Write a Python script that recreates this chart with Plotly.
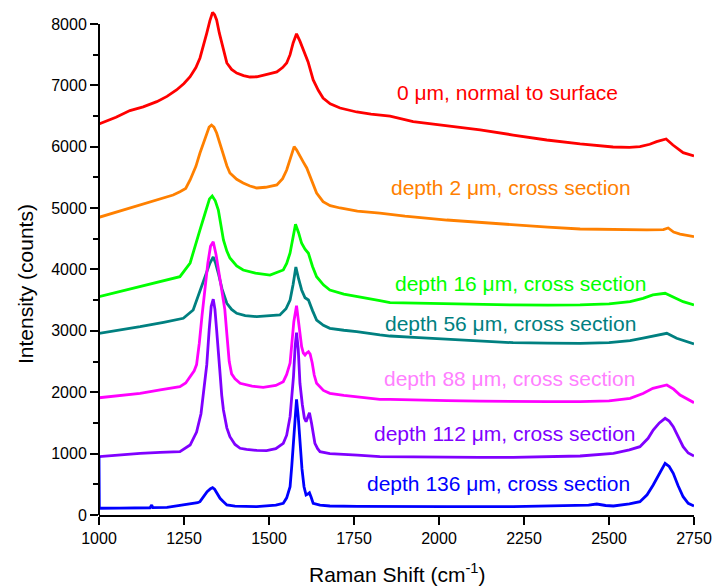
import plotly.graph_objects as go

# ---------------- data ----------------
red_x = [1000, 1050, 1091, 1130, 1170, 1200, 1228, 1250, 1268, 1285, 1297, 1308, 1317, 1326, 1334, 1340, 1346, 1354,
         1361, 1368, 1376, 1390, 1405, 1425, 1444, 1464, 1483, 1503, 1523, 1540, 1552, 1562, 1571, 1581, 1591, 1601,
         1615, 1630, 1645, 1659, 1680, 1709, 1758, 1800, 1856, 1924, 2023, 2121, 2218, 2317, 2415, 2512, 2560, 2591,
         2620, 2640, 2668, 2688, 2718, 2750]
red_y = [6370, 6480, 6590, 6650, 6735, 6820, 6925, 7030, 7142, 7290, 7446, 7650, 7853, 8050, 8190, 8150, 8065, 7850,
         7690, 7510, 7365, 7260, 7200, 7160, 7136, 7140, 7170, 7190, 7218, 7290, 7365, 7500, 7690, 7840, 7720, 7576,
         7381, 7088, 6920, 6794, 6700, 6631, 6566, 6530, 6500, 6408, 6338, 6273, 6191, 6110, 6045, 5996, 5990, 6001,
         6040, 6082, 6126, 6028, 5903, 5849]

orange_x = [1000, 1060, 1121, 1170, 1218, 1238, 1255, 1268, 1285, 1297, 1308, 1317, 1324, 1331, 1338, 1346, 1356,
            1366, 1376, 1385, 1405, 1424, 1444, 1464, 1490, 1523, 1540, 1552, 1564, 1574, 1581, 1591, 1601, 1611,
            1625, 1640, 1659, 1680, 1709, 1760, 1826, 1900, 2023, 2120, 2218, 2320, 2415, 2510, 2611, 2660, 2674,
            2690, 2709, 2750]
orange_y = [4850, 4950, 5051, 5132, 5214, 5267, 5320, 5458, 5680, 5898, 6080, 6224, 6320, 6354, 6320, 6224, 6040,
            5838, 5690, 5572, 5470, 5409, 5360, 5328, 5340, 5377, 5480, 5621, 5850, 6001, 5950, 5838, 5750, 5654,
            5440, 5246, 5105, 5040, 5002, 4950, 4920, 4870, 4806, 4765, 4725, 4690, 4660, 4650, 4644, 4650, 4676,
            4610, 4578, 4535]

green_x = [1000, 1060, 1121, 1180, 1238, 1268, 1285, 1297, 1310, 1317, 1325, 1333, 1342, 1351, 1358, 1366, 1376,
           1385, 1405, 1424, 1460, 1503, 1542, 1552, 1562, 1570, 1578, 1587, 1596, 1606, 1616, 1628, 1640, 1660,
           1679, 1720, 1758, 1826, 1856, 1940, 2023, 2120, 2218, 2320, 2415, 2500, 2562, 2600, 2629, 2665, 2688,
           2718, 2750]
green_y = [3557, 3640, 3720, 3800, 3883, 4106, 4400, 4644, 4880, 5023, 5150, 5198, 5120, 4969, 4720, 4481, 4300,
           4187, 4060, 3992, 3940, 3910, 3992, 4100, 4269, 4500, 4736, 4600, 4427, 4330, 4264, 4050, 3883, 3750,
           3666, 3600, 3557, 3492, 3459, 3450, 3438, 3430, 3422, 3420, 3422, 3440, 3476, 3530, 3585, 3612, 3557,
           3476, 3422]

teal_x = [1000, 1060, 1121, 1190, 1248, 1277, 1292, 1307, 1318, 1326, 1336, 1343, 1351, 1362, 1376, 1390, 1405,
          1430, 1464, 1500, 1532, 1550, 1562, 1571, 1579, 1587, 1596, 1606, 1616, 1628, 1640, 1660, 1679, 1720,
          1758, 1826, 1856, 1940, 2023, 2120, 2218, 2320, 2415, 2500, 2562, 2600, 2629, 2670, 2699, 2750]
teal_y = [2960, 3010, 3068, 3140, 3205, 3340, 3570, 3829, 4000, 4101, 4205, 4100, 3938, 3680, 3449, 3350, 3286,
          3250, 3231, 3240, 3259, 3360, 3503, 3760, 4040, 3850, 3666, 3540, 3503, 3330, 3177, 3090, 3042, 3010,
          2987, 2933, 2916, 2890, 2863, 2835, 2807, 2800, 2797, 2810, 2840, 2880, 2916, 2960, 2879, 2786]

magenta_x = [1000, 1060, 1121, 1180, 1238, 1255, 1268, 1280, 1287, 1295, 1303, 1312, 1320, 1328, 1336, 1344, 1352,
             1361, 1370, 1376, 1383, 1390, 1400, 1415, 1450, 1483, 1520, 1542, 1552, 1562, 1567, 1573, 1581, 1589,
             1596, 1601, 1606, 1611, 1616, 1621, 1627, 1633, 1640, 1660, 1679, 1720, 1758, 1826, 1856, 1940, 2023,
             2120, 2218, 2320, 2415, 2500, 2562, 2600, 2629, 2670, 2690, 2709, 2750]
magenta_y = [1910, 1950, 1982, 2040, 2091, 2150, 2254, 2350, 2450, 2800, 3250, 3720, 4100, 4380, 4453, 4250, 3980,
             3720, 3350, 2950, 2500, 2300, 2220, 2146, 2100, 2081, 2110, 2172, 2290, 2476, 2743, 3150, 3410, 3100,
             2743, 2639, 2607, 2640, 2661, 2620, 2480, 2280, 2146, 2030, 1982, 1950, 1927, 1885, 1885, 1870, 1862,
             1855, 1846, 1846, 1846, 1860, 1901, 1980, 2064, 2118, 2050, 1955, 1830]

purple_x = [1000, 1060, 1121, 1180, 1238, 1268, 1287, 1300, 1307, 1317, 1324, 1330, 1336, 1341, 1346, 1351, 1355,
            1361, 1366, 1376, 1385, 1400, 1415, 1434, 1464, 1493, 1520, 1542, 1552, 1562, 1567, 1572, 1577, 1581,
            1586, 1591, 1598, 1604, 1609, 1614, 1619, 1625, 1630, 1635, 1643, 1650, 1679, 1709, 1760, 1826, 1900,
            2023, 2120, 2218, 2320, 2415, 2513, 2560, 2591, 2615, 2630, 2648, 2665, 2677, 2689, 2703, 2718, 2733,
            2750]
purple_y = [950, 980, 1005, 1020, 1031, 1140, 1350, 1650, 1950, 2450, 3014, 3400, 3515, 3350, 3014, 2560, 2380,
            1950, 1711, 1420, 1276, 1150, 1087, 1070, 1052, 1048, 1080, 1168, 1300, 1602, 1900, 2254, 2750, 2970,
            2700, 2146, 1800, 1580, 1520, 1600, 1667, 1500, 1331, 1168, 1080, 1031, 1000, 994, 975, 950, 945,
            940, 940, 940, 945, 961, 1005, 1060, 1113, 1250, 1385, 1500, 1575, 1530, 1439, 1280, 1113, 1010,
            961]

blue_x = [1000, 1001, 1060, 1121, 1150, 1155, 1158, 1200, 1268, 1290, 1297, 1307, 1318, 1328, 1334, 1340, 1348,
          1356, 1366, 1376, 1400, 1464, 1520, 1542, 1552, 1562, 1567, 1572, 1577, 1581, 1586, 1591, 1597, 1603,
          1609, 1614, 1619, 1624, 1630, 1650, 1679, 1760, 1856, 2023, 2218, 2415, 2440, 2464, 2490, 2513, 2560,
          2591, 2612, 2630, 2648, 2665, 2677, 2689, 2703, 2718, 2733, 2750]
blue_y = [960, 110, 112, 115, 118, 163, 120, 125, 179, 200, 217, 300, 380, 430, 445, 420, 340,
          272, 217, 163, 145, 136, 160, 190, 280, 461, 800, 1168, 1650, 1885, 1600, 1168, 750, 461,
          326, 340, 363, 290, 190, 160, 147, 140, 136, 136, 136, 147, 160, 179, 155, 147, 180,
          217, 330, 489, 680, 842, 790, 679, 480, 298, 190, 147]

labels = ["0 \u03bcm, normal to surface",
          "depth 2 \u03bcm, cross section",
          "depth 16 \u03bcm, cross section",
          "depth 56 \u03bcm, cross section",
          "depth 88 \u03bcm, cross section",
          "depth 112 \u03bcm, cross section",
          "depth 136 \u03bcm, cross section"]
label_x = [2200, 2212, 2240, 2209, 2207, 2193, 2176]
label_y = [6876, 5328, 3764, 3112, 2232, 1336, 521]

x_ticks = [1000, 1250, 1500, 1750, 2000, 2250, 2500, 2750]
y_ticks = [0, 1000, 2000, 3000, 4000, 5000, 6000, 7000, 8000]
y_minor = [500, 1500, 2500, 3500, 4500, 5500, 6500, 7500]

# ---------------- styling ----------------
line_colors = ["#FF0000", "#FF8000", "#00FF00", "#008080", "#FF00FF", "#8000FF", "#0000FF"]
text_colors = ["#FF0000", "#FF8000", "#00FF00", "#008080", "#FF80FF", "#8000FF", "#0000FF"]
FONT = "Liberation Sans, Arial, sans-serif"

series = [(red_x, red_y), (orange_x, orange_y), (green_x, green_y), (teal_x, teal_y),
          (magenta_x, magenta_y), (purple_x, purple_y), (blue_x, blue_y)]

fig = go.Figure()
for (xs, ys), c, name in zip(series, line_colors, labels):
    fig.add_trace(go.Scatter(x=xs, y=ys, mode="lines", name=name,
                             line=dict(color=c, width=2.8), showlegend=False))

PH = 586 - 71 - 6
annotations = []
for t, x, y, c in zip(labels, label_x, label_y, text_colors):
    annotations.append(dict(x=x, y=y, xref="x", yref="y", text=t, showarrow=False,
                            xanchor="center", yanchor="middle",
                            font=dict(family=FONT, size=21, color=c)))
# axis titles
annotations.append(dict(x=-74 / 595, y=(586 - 284 - 71) / PH, xref="paper", yref="paper",
                        text="Intensity (counts)", textangle=-90, showarrow=False,
                        xanchor="center", yanchor="middle",
                        font=dict(family=FONT, size=21, color="#000000")))
annotations.append(dict(x=0.5, y=-(573 - 515) / PH, xref="paper", yref="paper",
                        text="Raman Shift (cm<sup>-1</sup>)", showarrow=False,
                        xanchor="center", yanchor="middle",
                        font=dict(family=FONT, size=21, color="#000000")))

fig.update_layout(
    width=717, height=586,
    margin=dict(l=99, r=23, t=6, b=71),
    plot_bgcolor="white", paper_bgcolor="white",
    font=dict(family=FONT, size=16, color="#000000"),
    annotations=annotations,
    shapes=[dict(type="line", xref="paper", yref="y", x0=0, x1=0, y0=0, y1=8000,
                 line=dict(color="#000000", width=2))],
)
fig.update_xaxes(range=[1000, 2750], tickmode="array", tickvals=x_ticks,
                 ticktext=[str(v) for v in x_ticks],
                 ticks="outside", ticklen=8, tickwidth=2, tickcolor="#000000",
                 showline=True, linecolor="#000000", linewidth=2,
                 showgrid=False, zeroline=False,
                 tickfont=dict(family=FONT, size=16, color="#000000"))
fig.update_yaxes(range=[0, 8293], tickmode="array", tickvals=y_ticks,
                 ticktext=[str(v) for v in y_ticks],
                 ticks="outside", ticklen=8, tickwidth=2, tickcolor="#000000",
                 showline=False, showgrid=False, zeroline=False,
                 minor=dict(tickvals=y_minor,
                            ticks="outside", ticklen=5, tickwidth=2, tickcolor="#000000",
                            showgrid=False),
                 tickfont=dict(family=FONT, size=16, color="#000000"))

fig.write_html("out.html", config={"displayModeBar": False},
               post_script="document.body.style.margin='0';document.body.style.overflow='hidden';")
